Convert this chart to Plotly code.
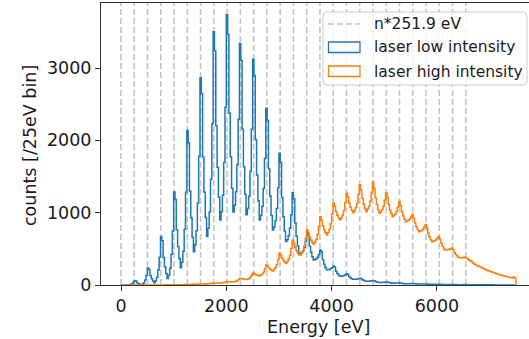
import numpy as np
import plotly.graph_objects as go

# Histogram binning (eV)
bin_width = 25
e_max = 7500
line_spacing = 251.9
n_lines = 27  # n = 0 .. 26

# counts per 25 eV bin, 0 .. 7500 eV
low_intensity = [
    0, 0, 0, 0, 0,
    0, 2, 7, 17, 33, 60, 54, 32, 19, 10, 3,
    12, 31, 68, 131, 235, 215, 133, 87, 55, 30,
    56, 107, 209, 382, 670, 612, 380, 252, 160, 90,
    138, 233, 425, 747, 1285, 1181, 763, 533, 365, 240,
    316, 467, 771, 1282, 2135, 1968, 1298, 929, 661, 460,
    556, 749, 1133, 1783, 2865, 2646, 1768, 1285, 933, 670,
    783, 1010, 1462, 2227, 3500, 3240, 2200, 1628, 1212, 900,
    1013, 1240, 1694, 2459, 3735, 3463, 2373, 1773, 1337, 1010,
    1103, 1290, 1662, 2292, 3340, 3103, 2155, 1634, 1254, 970,
    1056, 1228, 1572, 2153, 3120, 2898, 2010, 1522, 1166, 900,
    962, 1085, 1333, 1750, 2445, 2277, 1603, 1232, 962, 760,
    802, 887, 1057, 1343, 1820, 1698, 1210, 942, 746, 600,
    627, 681, 789, 971, 1275, 1192, 858, 674, 540, 440, 440,
    452, 475, 521, 600, 730, 692, 538, 453, 391, 345,
    351, 362, 384, 422, 485, 458, 348, 287, 243, 210,
    212, 216, 225, 239, 262, 248, 191, 160, 137, 120,
    121, 124, 130, 139, 155, 147, 117, 100, 87, 78,
    79, 80, 83, 87, 95, 91, 73, 64, 57, 52,
    52, 53, 55, 58, 62, 60, 49, 43, 38, 35,
    35, 36, 37, 39, 42, 41, 34, 30, 27, 25,
    25, 26, 26, 28, 30, 29, 24, 21, 19, 18,
    18, 18, 19, 20, 22, 21, 18, 16, 14, 13,
    13, 13, 14, 14, 15, 14, 12, 11, 10, 9,
    9, 9, 10, 10, 11, 11, 9, 8, 7, 7,
    7, 7, 7, 8, 8, 8, 7, 6, 5, 5,
    5, 5, 5, 6, 6,
    5, 4, 4, 4, 4, 3, 3, 3, 3, 3,
    3, 2, 2, 2, 2, 2, 2, 2, 2, 2,
    2, 1, 1, 1, 1, 1, 1, 1, 1, 1,
    1, 1, 1, 0, 1, 0, 0, 0,
]

high_intensity = [
    0, 0, 0, 0, 0, 0, 0, 0, 0, 0,
    0, 0, 0, 0, 0, 0, 0, 0, 0, 0,
    0, 0, 0, 0, 0, 0, 0, 0, 0, 0,
    1, 0, 1, 1, 2, 1, 2, 2, 3, 2, 3, 3, 4, 3, 4,
    4, 5, 4, 6, 7, 8, 7, 8, 9, 8,
    10, 11, 10, 12, 14, 15, 14, 15, 16, 15,
    17, 18, 19, 21, 23, 26, 24, 23, 24, 25, 28,
    30, 32, 36, 42, 50, 48, 46, 44, 43, 42,
    46, 52, 61, 76, 95, 91, 85, 81, 77, 75,
    82, 91, 107, 134, 165, 157, 145, 136, 130, 125,
    137, 152, 178, 223, 275, 259, 235, 217, 205, 195,
    215, 239, 281, 354, 440, 412, 370, 339, 317, 300,
    326, 358, 412, 508, 620, 579, 518, 472, 440, 415, 415,
    443, 478, 538, 643, 765, 725, 665, 621, 589, 565,
    595, 633, 698, 812, 945, 894, 819, 763, 722, 692,
    727, 772, 847, 980, 1135, 1088, 1017, 965, 927, 899,
    929, 966, 1029, 1140, 1270, 1216, 1135, 1076, 1032, 1000,
    1031, 1069, 1135, 1250, 1385, 1311, 1200, 1118, 1059, 1014,
    1047, 1088, 1158, 1281, 1425, 1338, 1208, 1113, 1043, 991,
    1014, 1042, 1090, 1176, 1275, 1209, 1110, 1037, 985, 945,
    962, 983, 1019, 1082, 1155, 1099, 1016, 954, 909, 876,
    884, 894, 911, 940, 975, 927, 856, 804, 766, 737,
    745, 755, 771, 801, 835, 788, 717, 665, 627, 599,
    605, 612, 624, 645, 670, 633, 577, 536, 506, 484,
    486, 489, 493, 501, 510, 485, 448, 420, 400, 385,
    376, 376, 378, 381, 385, 372, 358, 345, 335, 325,
    305, 290, 282, 270, 262, 255, 248, 236, 228, 220,
    210, 202, 196, 190, 183, 176, 170, 162, 158, 150,
    145, 140, 134, 128, 125, 118, 114, 110, 108, 104,
    100, 110, 95,
]

x_ticks = [0, 2000, 4000, 6000]
y_ticks = [0, 1000, 2000, 3000]

BLUE = "#1f77b4"
ORANGE = "#ff7f0e"
GRID_GRAY = "#c4c4c4"
FONT = "DejaVu Sans"

edges = np.arange(0, e_max + bin_width, bin_width)


def step_outline(counts):
    """Outline of a step histogram: up from 0, across each bin, back down to 0."""
    xs = np.concatenate([[edges[0]], edges])
    ys = np.concatenate([[0], counts, [0]])
    return xs, ys


fig = go.Figure()

for counts, color in [(low_intensity, BLUE), (high_intensity, ORANGE)]:
    xs, ys = step_outline(np.asarray(counts, dtype=float))
    fig.add_trace(go.Scatter(
        x=xs, y=ys, mode="lines", line=dict(color=color, width=1.5, shape="hv"),
        showlegend=False, hoverinfo="skip",
    ))

# vertical reference lines at n*251.9 eV
for n in range(n_lines):
    fig.add_shape(type="line", xref="x", yref="paper",
                  x0=n * line_spacing, x1=n * line_spacing, y0=0, y1=1,
                  line=dict(color=GRID_GRAY, width=1.6, dash="6px,3px"),
                  layer="below")

# plot area in pixels
L, R, T, B = 101, 529, 3, 285
W, H = R - L, B - T


def px(xp):
    return (xp - L) / W


def py(yp):
    return (B - yp) / H


# legend frame (rounded)
x0, x1, y0, y1 = px(323), px(527), py(85), py(12)
rx, ry = 4 / W, 4 / H
frame = (f"M {x0 + rx},{y0} L {x1 - rx},{y0} Q {x1},{y0} {x1},{y0 + ry} "
         f"L {x1},{y1 - ry} Q {x1},{y1} {x1 - rx},{y1} "
         f"L {x0 + rx},{y1} Q {x0},{y1} {x0},{y1 - ry} "
         f"L {x0},{y0 + ry} Q {x0},{y0} {x0 + rx},{y0} Z")
fig.add_shape(type="path", xref="paper", yref="paper", path=frame,
              fillcolor="rgba(255,255,255,0.8)", line=dict(color="#cccccc", width=1))

# legend handles
fig.add_shape(type="line", xref="paper", yref="paper",
              x0=px(328), x1=px(360), y0=py(24), y1=py(24),
              line=dict(color=GRID_GRAY, width=1.6, dash="6px,3px"))
for (yt, yb), color in [((42, 52.5), BLUE), ((66, 76.5), ORANGE)]:
    fig.add_shape(type="rect", xref="paper", yref="paper",
                  x0=px(328.5), x1=px(360), y0=py(yb), y1=py(yt),
                  fillcolor="rgba(0,0,0,0)", line=dict(color=color, width=1.3))

legend_labels = [("n*251.9 eV", 24), ("laser low intensity", 47.5), ("laser high intensity", 71.5)]
for text, yc in legend_labels:
    fig.add_annotation(text=text, xref="paper", yref="paper", x=px(372), y=py(yc),
                       xanchor="left", yanchor="middle", showarrow=False,
                       font=dict(family=FONT, size=15.5, color="#1a1a1a"))

# axis titles
fig.add_annotation(text="Energy [eV]", xref="paper", yref="paper", x=px(318), y=py(327),
                   xanchor="center", yanchor="middle", showarrow=False,
                   font=dict(family=FONT, size=17.5, color="#1a1a1a"))
fig.add_annotation(text="counts [/25eV bin]", xref="paper", yref="paper", x=px(30), y=py(146),
                   xanchor="center", yanchor="middle", showarrow=False, textangle=-90,
                   font=dict(family=FONT, size=17.5, color="#1a1a1a"))

fig.update_layout(
    width=529, height=339,
    margin=dict(l=L, r=529 - R, t=T, b=339 - B, pad=0),
    paper_bgcolor="white", plot_bgcolor="white",
    showlegend=False,
    font=dict(family=FONT, size=17.5, color="#1a1a1a"),
)
fig.update_xaxes(
    range=[(L - 121) / 0.05265, (R - 121) / 0.05265],
    tickvals=x_ticks, ticks="outside", ticklen=5, tickwidth=1, tickcolor="#333",
    showline=True, linecolor="#333", linewidth=1, mirror=True,
    showgrid=False, zeroline=False,
)
fig.update_yaxes(
    range=[0, H / 0.07233],
    tickvals=y_ticks, ticks="outside", ticklen=5, tickwidth=1, tickcolor="#333",
    showline=True, linecolor="#333", linewidth=1, mirror=False,
    showgrid=False, zeroline=False,
)

fig.write_html("out.html")
